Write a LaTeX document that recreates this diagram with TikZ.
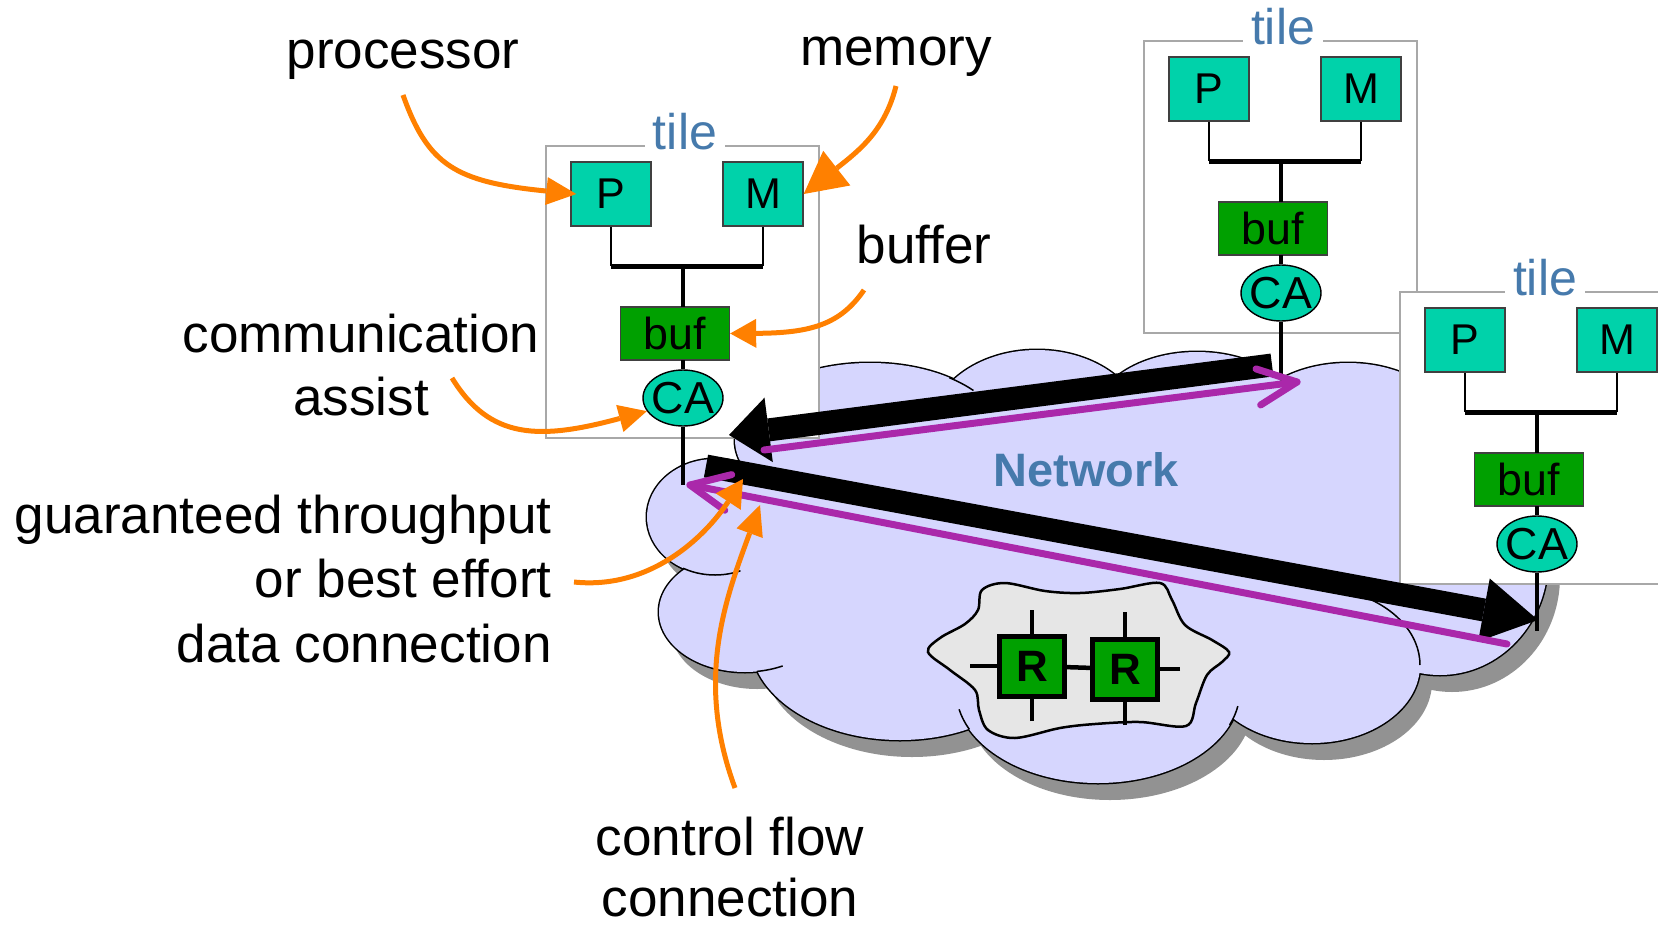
\documentclass[tikz,border=0pt]{standalone}
\usepackage{fontspec}
\setmainfont{Liberation Sans}
\usetikzlibrary{arrows.meta,calc,shapes.geometric}

\definecolor{unitteal}{RGB}{0,210,170}
\definecolor{bufgreen}{RGB}{0,160,0}
\definecolor{cloudfill}{RGB}{214,214,254}
\definecolor{cloudshadow}{RGB}{146,146,146}
\definecolor{blobgray}{RGB}{230,230,230}
\definecolor{framegray}{RGB}{168,168,168}
\definecolor{labelblue}{RGB}{70,122,172}
\definecolor{linkpurple}{RGB}{170,40,170}
\definecolor{pointerorange}{RGB}{255,128,0}

% bumps of the network cloud (centre, radii)
\newcommand{\cloudbumps}{%
  (715,517) ellipse [x radius=68, y radius=58]
  (745,612) ellipse [x radius=86, y radius=60]
  (900,640) ellipse [x radius=150, y radius=100]
  (1098,690) ellipse [x radius=142, y radius=93]
  (1312,665) ellipse [x radius=108, y radius=78]
  (1440,560) ellipse [x radius=108, y radius=115]
  (1348,440) ellipse [x radius=110, y radius=77]
  (1197,420) ellipse [x radius=104, y radius=68]
  (1037,430) ellipse [x radius=107, y radius=80]
  (870,440) ellipse [x radius=135, y radius=77]}
\newcommand{\cloudcore}{(1100,540) ellipse [x radius=340, y radius=150]}
% inner seam of one bump: cx, cy, rx, ry, start angle, end angle
\newcommand{\cloudseam}[6]{%
  \draw[seam] ($(#1,#2)+(#5:#3 and #4)$) arc[start angle=#5, end angle=#6, x radius=#3, y radius=#4];}

\begin{document}
\begin{tikzpicture}[x=0.02cm, y=-0.02cm,
  seam/.style={line width=0.03cm},
  unitbox/.style={draw=black!75, line width=0.8pt, fill=unitteal, minimum width=1.6cm,
    minimum height=1.28cm, inner sep=0pt, font=\fontsize{24.5}{26}\selectfont},
  bufbox/.style={draw=black!75, line width=0.8pt, fill=bufgreen, minimum width=2.18cm,
    minimum height=1.06cm, inner sep=0pt, font=\fontsize{25.5}{27}\selectfont},
  assistnode/.style={ellipse, draw=black, line width=0.8pt, fill=unitteal, minimum width=1.6cm,
    minimum height=1.12cm, inner xsep=-3pt, inner ysep=-3pt, font=\fontsize{25.5}{27}\selectfont},
  frameline/.style={draw=framegray, line width=0.85pt, fill=white},
  tilename/.style={text=labelblue, fill=white, inner xsep=0.16cm, inner ysep=0.05cm,
    font=\fontsize{28.5}{30}\selectfont},
  wire/.style={line width=0.04cm},
  busbar/.style={line width=0.1cm},
  riser/.style={line width=0.08cm},
  router/.style={draw=black, line width=0.1cm, fill=bufgreen, minimum width=1.3cm,
    minimum height=1.2cm, inner sep=0pt, font=\bfseries\fontsize{25}{27}\selectfont},
  stub/.style={line width=0.09cm},
  gtband/.style={draw=black, line width=0.46cm},
  ctline/.style={draw=linkpurple, line width=0.14cm, line cap=round, line join=round},
  pointer/.style={draw=pointerorange, line width=0.1cm},
  callout/.style={font=\fontsize{30.2}{36}\selectfont, inner sep=0pt},
  pics/tile/.style={code={
    \path[frameline] (-137,-252) rectangle (136,40);
    \node[tilename, anchor=base] (-name) at (#1,-249) {tile};
    \node[unitbox] (-P) at (-72,-204) {P};
    \node[unitbox] (-M) at (80,-204) {M};
    \node[bufbox] (-buf) at (-8,-64.5) {buf};
    \node[assistnode] (-CA) at (0,0) {CA};
    \coordinate (-pj) at (-72,-132);
    \coordinate (-mj) at (80,-132);
    \coordinate (-bus) at (0,-132);
    \coordinate (-buftop) at (0,-91);
    \coordinate (-bufbot) at (0,-38);
    \coordinate (-port) at (0,87);
    \draw[wire] (-P) -- (-pj);
    \draw[wire] (-M) -- (-mj);
    \draw[busbar] (-pj) -- (-mj);
    \draw[riser] (-bus) -- (-buftop);
    \draw[riser] (-bufbot) -- (-CA);
    \draw[riser] (-CA) -- (-port);
  }},
  pics/tile/.default=2]

\useasboundingbox (0,0) rectangle (1658,927);
\fill[white] (0,0) rectangle (1658,927);

% network cloud: shadow, outline, body, inner seams
\fill[cloudshadow, shift={(12,17)}] \cloudbumps;
\draw[line width=0.06cm] \cloudbumps;
\fill[cloudfill] \cloudbumps \cloudcore;
\cloudseam{715}{517}{68}{58}{118}{68}
\cloudseam{745}{612}{86}{60}{82}{64}
\cloudseam{1098}{690}{142}{93}{168}{155}
\cloudseam{1098}{690}{142}{93}{10}{22}
\cloudseam{1312}{665}{108}{78}{-67}{0}
\cloudseam{870}{440}{135}{77}{-54}{-40}
\cloudseam{1037}{430}{107}{80}{-39}{-30}
\cloudseam{1197}{420}{104}{68}{-37}{-28}

% router inset
\draw[line width=0.05cm, fill=blobgray] plot[smooth cycle, tension=0.55] coordinates {
  (982,590) (1005,583) (1045,591) (1080,593) (1120,589) (1160,583)
  (1172,600) (1185,625) (1212,640) (1229,652) (1222,662) (1207,675)
  (1196,703) (1186,726) (1140,722) (1095,724) (1060,728) (1015,738)
  (988,730) (979,710) (975,690) (950,670) (928,652) (940,638) (965,624) (978,610)};
\node[router] (R1) at (1032,666) {R};
\node[router] (R2) at (1125,669) {R};
\coordinate (R1n) at (1032,610);
\coordinate (R1s) at (1032,721);
\coordinate (R1w) at (970,666);
\coordinate (R2n) at (1125,612);
\coordinate (R2s) at (1125,725);
\coordinate (R2e) at (1180,669);
\draw[stub] (R1n) -- (R1);
\draw[stub] (R1s) -- (R1);
\draw[stub] (R1w) -- (R1);
\draw[stub] (R1) -- (R2);
\draw[stub] (R2n) -- (R2);
\draw[stub] (R2s) -- (R2);
\draw[stub] (R2e) -- (R2);

\node[font=\bfseries\fontsize{26.7}{28}\selectfont, text=labelblue, anchor=base] (net) at (1086,486) {Network};

% tiles
\pic (L) at (683,398) {tile};
\pic (T) at (1281,293) {tile};
\pic (Rt) at (1537,544) {tile=8};

% data connections
\coordinate (gtA-from) at (1272,365);
\coordinate (gtA-to) at (729,435);
\coordinate (gtB-from) at (706,466);
\coordinate (gtB-to) at (1538,620);
\draw[gtband, -{Triangle[length=0.8cm, width=1.3cm, line width=0pt]}] (gtA-from) -- (gtA-to);
\draw[gtband, -{Triangle[length=1.1cm, width=1.28cm, line width=0pt]}] (gtB-from) -- (gtB-to);

% control flow connections
\coordinate (ctA-from) at (764,450);
\coordinate (ctA-to) at (1297,382);
\coordinate (ctB-from) at (1507,644);
\coordinate (ctB-to) at (690,485);
\draw[ctline] (ctA-from) -- (ctA-to);
\draw[ctline] ($(ctA-to)!0.86cm!25:(ctA-from)$) -- (ctA-to) -- ($(ctA-to)!0.86cm!-25:(ctA-from)$);
\draw[ctline] (ctB-from) -- (ctB-to);
\draw[ctline] ($(ctB-to)!0.86cm!25:(ctB-from)$) -- (ctB-to) -- ($(ctB-to)!0.86cm!-25:(ctB-from)$);

% labels
\node[callout, anchor=base] (lproc) at (403,68) {processor};
\node[callout, anchor=base] (lmem) at (896,65) {memory};
\node[callout, anchor=base] (lbuf) at (924,263) {buffer};
\node[callout, anchor=base] (lcomm) at (361,352) {communication};
\node[callout, anchor=base] (lassist) at (361,415) {assist};
\node[callout, anchor=base east] (lgt1) at (552,533) {guaranteed throughput};
\node[callout, anchor=base east] (lgt2) at (552,597) {or best effort};
\node[callout, anchor=base east] (lgt3) at (552,662) {data connection};
\node[callout, anchor=base] (lcf1) at (730,855) {control flow};
\node[callout, anchor=base] (lcf2) at (730,916) {connection};

% pointers from labels
\coordinate (proc-tail) at (403,95);
\coordinate (mem-tail) at (896,86);
\coordinate (buf-tail) at (864,290);
\coordinate (assist-tail) at (452,378);
\coordinate (gt-tail) at (574,582);
\coordinate (gt-mark) at (743,479);
\coordinate (cf-tail) at (735,788);
\coordinate (cf-mark) at (760,505);
\draw[pointer, -{Triangle[length=0.6cm, width=0.56cm, line width=0pt]}]
  (proc-tail) .. controls (428,165) and (455,182) .. ([xshift=0.12cm]L-P.west);
\draw[pointer, -{Triangle[length=0.84cm, width=0.88cm, line width=0pt]}]
  (mem-tail) .. controls (885,130) and (860,150) .. (L-M.east);
\draw[pointer, -{Triangle[length=0.52cm, width=0.58cm, line width=0pt]}]
  (buf-tail) .. controls (840,325) and (810,333) .. (L-buf.east);
\draw[pointer, -{Triangle[length=0.56cm, width=0.56cm, line width=0pt]}]
  (assist-tail) .. controls (490,440) and (540,440) .. (L-CA.200);
\draw[pointer, -{Triangle[length=0.54cm, width=0.6cm, line width=0pt]}]
  (gt-tail) .. controls (650,590) and (705,537) .. (gt-mark);
\draw[pointer, -{Triangle[length=0.6cm, width=0.56cm, line width=0pt]}]
  (cf-tail) .. controls (695,680) and (725,600) .. (cf-mark);
\end{tikzpicture}
\end{document}
